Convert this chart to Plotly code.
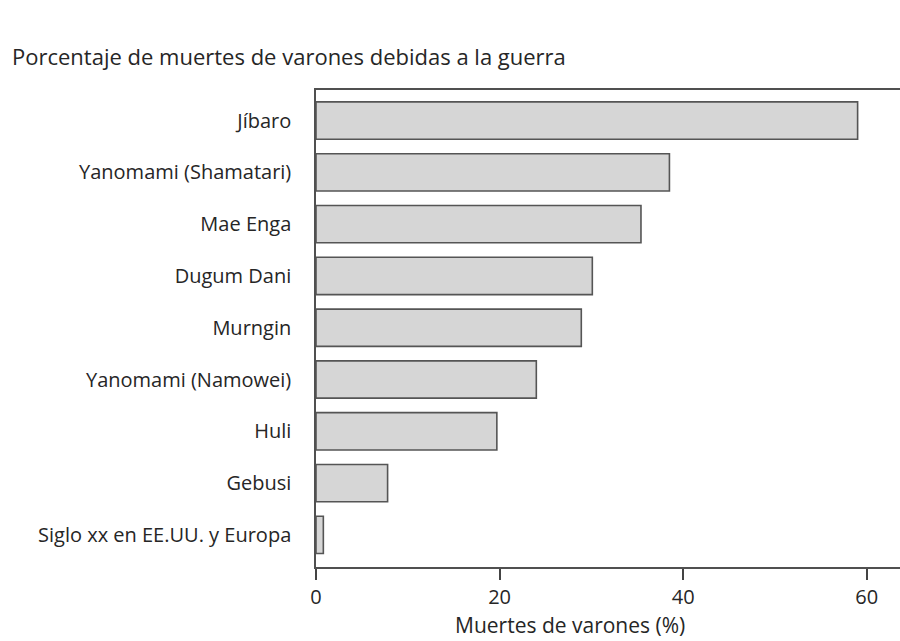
import plotly.graph_objects as go

categories = [
    "Jíbaro",
    "Yanomami (Shamatari)",
    "Mae Enga",
    "Dugum Dani",
    "Murngin",
    "Yanomami (Namowei)",
    "Huli",
    "Gebusi",
    "Siglo xx en EE.UU. y Europa",
]
values = [59.0, 38.5, 35.4, 30.1, 28.9, 24.0, 19.7, 7.8, 0.8]
x_ticks = [0, 20, 40, 60]

title_text = "Porcentaje de muertes de varones debidas a la guerra"
x_title = "Muertes de varones (%)"

FONT = "Open Sans"
TXT = "#262626"

fig = go.Figure(
    go.Bar(
        x=values,
        y=categories,
        orientation="h",
        width=0.72,
        marker=dict(color="#d6d6d6", line=dict(color="#555555", width=1.6)),
        hoverinfo="x+y",
    )
)

W, H = 900, 641
ml, mr, mt, mb = 316, 0, 90, 74
pw, ph = W - ml - mr, H - mt - mb

fig.update_layout(
    width=W,
    height=H,
    margin=dict(l=ml, r=mr, t=mt, b=mb, pad=0),
    paper_bgcolor="white",
    plot_bgcolor="white",
    showlegend=False,
    font=dict(family=FONT, color=TXT, size=20),
    title=dict(
        text=title_text,
        xref="container",
        yref="container",
        x=12 / W,
        xanchor="left",
        y=1 - 57 / H,
        yanchor="middle",
        font=dict(family=FONT, size=22, color=TXT),
    ),
    xaxis=dict(
        range=[0, pw / 9.18],
        tickvals=x_ticks,
        ticktext=[str(v) for v in x_ticks],
        ticks="outside",
        ticklen=11,
        tickwidth=1.5,
        tickcolor="#444",
        showline=True,
        linecolor="#505050",
        linewidth=1.5,
        mirror=True,
        showgrid=False,
        zeroline=False,
        tickfont=dict(family=FONT, size=20, color=TXT),
        fixedrange=True,
    ),
    yaxis=dict(
        categoryorder="array",
        categoryarray=categories,
        range=[8.62, -0.59],
        showline=True,
        linecolor="#505050",
        linewidth=1.5,
        ticks="",
        showgrid=False,
        zeroline=False,
        ticklabelstandoff=19,
        tickfont=dict(family=FONT, size=20, color=TXT),
        fixedrange=True,
    ),
    annotations=[
        dict(
            text=x_title,
            xref="paper",
            yref="paper",
            x=(570 - ml) / pw,
            y=-(625 - (H - mb)) / ph,
            xanchor="center",
            yanchor="middle",
            showarrow=False,
            font=dict(family=FONT, size=21, color=TXT),
        )
    ],
)

fig.write_html(
    "out.html",
    config={"displayModeBar": False},
    post_script="document.body.style.margin='0';document.body.style.overflow='hidden';",
)
